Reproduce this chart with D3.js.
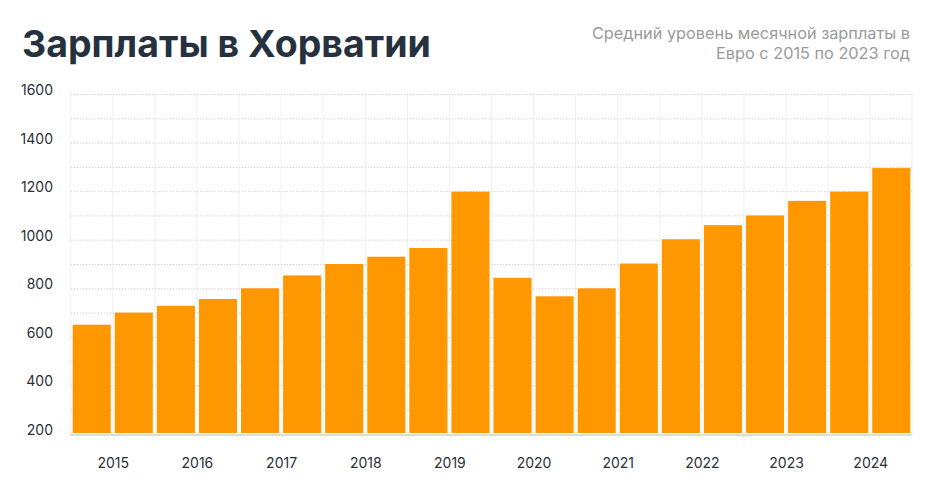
<!DOCTYPE html>
<html lang="ru">
<head>
  <meta charset="UTF-8" />
  <title>Зарплаты в Хорватии</title>
  <script src="https://cdn.jsdelivr.net/npm/d3@7"></script>
  <style>
    html, body {
      margin: 0;
      padding: 0;
      background: #fff;
      font-family: Inter, "Noto Sans", sans-serif;
    }

    .grid-h line {
      stroke: #d4d4d4;
      stroke-width: 1px;
      stroke-dasharray: 1.5 1.5;
    }

    .grid-v line {
      stroke: #f0f0f0;
      stroke-width: 1px;
    }

    .axis text {
      font-family: Inter, sans-serif;
      font-size: 14px;
      fill: #2b2f36;
    }
  </style>
</head>
<body>
  <div id="chart"></div>

  <script>
    // полугодия 2015–2024
    const periods = [
      "2015-1", "2015-2", "2016-1", "2016-2", "2017-1", "2017-2",
      "2018-1", "2018-2", "2019-1", "2019-2", "2020-1", "2020-2",
      "2021-1", "2021-2", "2022-1", "2022-2", "2023-1", "2023-2",
      "2024-1", "2024-2"
    ];
    const salaries = [
      650, 700, 728, 756, 800, 853, 900, 930, 966, 1198,
      843, 767, 800, 902, 1002, 1060, 1100, 1160, 1198, 1295
    ];
    const years = ["2015", "2016", "2017", "2018", "2019", "2020", "2021", "2022", "2023", "2024"];
    const yTicks = [200, 400, 600, 800, 1000, 1200, 1400, 1600];
    const yGrid = d3.range(200, 1601, 100);

    const width = 935;
    const height = 486;
    const plotLeft = 71, plotRight = 912, plotTop = 94, plotBottom = 434;

    const svg = d3.select("#chart")
      .append("svg")
      .attr("width", width)
      .attr("height", height);

    const x = d3.scaleBand()
      .domain(periods)
      .range([plotLeft, plotRight])
      .paddingInner(0.095)
      .paddingOuter(0.04);

    const y = d3.scaleLinear()
      .domain([200, 1600])
      .range([plotBottom, plotTop]);

    const gapHalf = x.step() * x.paddingInner() / 2;

    // вертикальная сетка по границам столбцов
    const bounds = periods.map(p => x(p) - gapHalf).concat([plotRight]);
    svg.append("g")
      .attr("class", "grid-v")
      .selectAll("line")
      .data(bounds)
      .enter()
      .append("line")
      .attr("x1", d => d)
      .attr("x2", d => d)
      .attr("y1", plotTop)
      .attr("y2", plotBottom);

    // горизонтальная сетка
    svg.append("g")
      .attr("class", "grid-h")
      .selectAll("line")
      .data(yGrid)
      .enter()
      .append("line")
      .attr("x1", plotLeft)
      .attr("x2", plotRight)
      .attr("y1", d => y(d) + 0.5)
      .attr("y2", d => y(d) + 0.5);

    // столбцы
    svg.selectAll(".bar")
      .data(salaries)
      .enter()
      .append("rect")
      .attr("class", "bar")
      .attr("x", (d, i) => x(periods[i]))
      .attr("width", x.bandwidth())
      .attr("y", d => y(d))
      .attr("height", d => y(200) - 1 - y(d))
      .attr("fill", "#ff9800");

    // базовая линия
    svg.append("line")
      .attr("x1", plotLeft - 1)
      .attr("x2", plotRight - 1)
      .attr("y1", plotBottom + 1)
      .attr("y2", plotBottom + 1)
      .attr("stroke", "#dcdcdc")
      .attr("stroke-width", 2);

    // ось Y
    const yAxis = d3.axisLeft(y)
      .tickValues(yTicks)
      .tickFormat(d3.format("d"))
      .tickSize(0)
      .tickPadding(0);

    svg.append("g")
      .attr("class", "axis")
      .attr("transform", `translate(53, -4)`)
      .call(yAxis)
      .call(g => g.select(".domain").remove());

    // ось X: подпись года по центру пары полугодий
    const xYear = d3.scalePoint()
      .domain(years)
      .range([x(periods[1]) - gapHalf, x(periods[19]) - gapHalf]);

    const xAxis = d3.axisBottom(xYear)
      .tickSize(0)
      .tickPadding(0);

    svg.append("g")
      .attr("class", "axis")
      .attr("transform", `translate(0, 458)`)
      .call(xAxis)
      .call(g => g.select(".domain").remove());

    // заголовок
    svg.append("text")
      .attr("x", 22)
      .attr("y", 57)
      .attr("font-family", "Inter, sans-serif")
      .attr("font-size", 37.5)
      .attr("font-weight", 700)
      .attr("fill", "#263140")
      .text("Зарплаты в Хорватии");

    const sub = svg.append("text")
      .attr("text-anchor", "end")
      .attr("font-family", "Inter, sans-serif")
      .attr("font-size", 16.3)
      .attr("fill", "#9a9a9a");

    sub.append("tspan")
      .attr("x", 910)
      .attr("y", 39)
      .text("Средний уровень месячной зарплаты в");

    sub.append("tspan")
      .attr("x", 910)
      .attr("y", 59)
      .text("Евро с 2015 по 2023 год");
  </script>
</body>
</html>
